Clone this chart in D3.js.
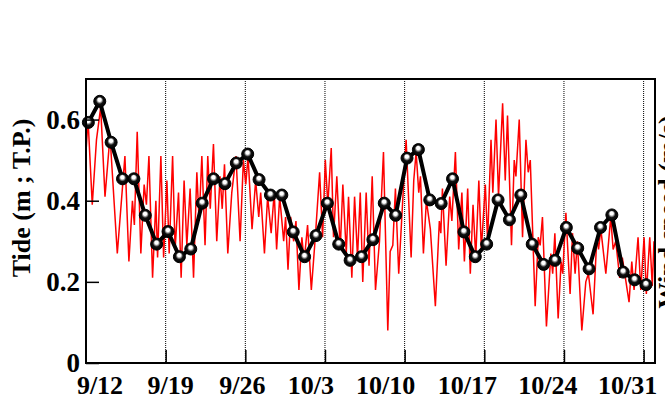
<html>
<script src="https://d3js.org/d3.v7.min.js"></script>
<style>
body {margin: 0; background: #fff;}
text {font-family: "Liberation Serif", "Times New Roman", serif; font-weight: bold;}
</style>
<body>
<svg id="chart" width="665" height="397"></svg>
<script>
// daily mean tide, 9/12 .. 10/31
var meanDays = ["9/12","9/13","9/14","9/15","9/16","9/17","9/18","9/19","9/20","9/21",
  "9/22","9/23","9/24","9/25","9/26","9/27","9/28","9/29","9/30","10/1",
  "10/2","10/3","10/4","10/5","10/6","10/7","10/8","10/9","10/10","10/11",
  "10/12","10/13","10/14","10/15","10/16","10/17","10/18","10/19","10/20","10/21",
  "10/22","10/23","10/24","10/25","10/26","10/27","10/28","10/29","10/30","10/31"];
var meanTide = [0.593,0.645,0.544,0.454,0.454,0.364,0.293,0.324,0.262,0.281,
  0.394,0.454,0.442,0.493,0.515,0.452,0.414,0.414,0.323,0.262,
  0.314,0.394,0.293,0.253,0.262,0.304,0.394,0.364,0.505,0.526,
  0.402,0.393,0.454,0.323,0.262,0.293,0.402,0.353,0.414,0.293,
  0.243,0.253,0.334,0.283,0.232,0.334,0.365,0.224,0.205,0.193];

// hourly tide turning points: days after 9/12 00:00, and level (m)
var tideDay = [0,0.18,0.55,0.92,1.29,1.67,2.11,2.75,3.42,3.77,4.08,4.25,4.50,4.82,5.11,5.31,5.53,5.85,6.14,6.29,
  6.58,6.82,7.11,7.31,7.61,7.83,8.13,8.36,8.62,8.86,9.15,9.45,9.74,9.94,10.18,10.46,10.70,10.92,11.20,11.49,
  11.78,11.97,12.17,12.46,12.81,13.18,13.54,13.83,14.04,14.24,14.59,14.91,15.18,15.35,15.68,15.96,16.27,16.54,16.75,17.02,
  17.37,17.54,17.75,17.98,18.25,18.45,18.71,18.97,19.17,19.47,19.80,20.15,20.53,20.79,21.03,21.25,21.55,21.75,22.04,22.34,
  22.57,22.87,23.07,23.36,23.60,23.86,24.10,24.32,24.62,24.87,25.15,25.44,25.79,26.14,26.52,26.73,26.96,27.19,27.48,27.83,
  28.13,28.57,28.80,29.01,29.24,29.39,29.65,29.91,30.26,30.70,31.05,31.18,31.32,31.64,31.96,32.15,32.46,32.75,33.03,33.25,
  33.54,33.77,34.01,34.25,34.52,34.74,35.09,35.29,35.59,35.75,36.03,36.25,36.61,36.84,37.04,37.39,37.63,37.78,38.07,38.36,
  38.66,38.86,39.04,39.47,39.74,39.91,40.11,40.46,40.85,41.01,41.20,41.49,41.75,41.89,42.17,42.54,42.75,42.98,43.18,43.57,
  43.92,44.15,44.56,44.89,45.04,45.24,45.68,46.11,46.32,46.55,46.90,47.13,47.72,47.96,48.16,48.51,48.75,49.04,49.24,49.54,
  49.76,49.91];
var tideLevel = [0.52,0.60,0.39,0.55,0.63,0.41,0.56,0.27,0.51,0.25,0.40,0.34,0.57,0.27,0.44,0.39,0.51,0.21,0.40,0.26,
  0.51,0.26,0.45,0.27,0.51,0.28,0.42,0.21,0.45,0.29,0.43,0.21,0.47,0.35,0.51,0.29,0.51,0.38,0.54,0.30,
  0.46,0.38,0.49,0.27,0.42,0.51,0.30,0.50,0.44,0.51,0.33,0.45,0.36,0.42,0.27,0.41,0.32,0.42,0.28,0.41,
  0.30,0.36,0.23,0.36,0.30,0.35,0.18,0.31,0.25,0.34,0.18,0.31,0.47,0.31,0.50,0.39,0.53,0.31,0.46,0.28,
  0.44,0.27,0.41,0.21,0.41,0.26,0.42,0.20,0.42,0.24,0.46,0.18,0.30,0.52,0.08,0.275,0.29,0.43,0.22,0.40,
  0.55,0.26,0.45,0.52,0.42,0.46,0.27,0.40,0.33,0.14,0.35,0.32,0.43,0.24,0.41,0.35,0.52,0.28,0.42,0.25,
  0.43,0.22,0.39,0.26,0.45,0.28,0.44,0.30,0.55,0.42,0.60,0.41,0.64,0.45,0.61,0.29,0.50,0.46,0.60,0.31,
  0.55,0.47,0.50,0.14,0.31,0.29,0.36,0.09,0.27,0.22,0.32,0.11,0.25,0.22,0.37,0.17,0.32,0.22,0.30,0.08,
  0.20,0.22,0.12,0.31,0.28,0.33,0.22,0.36,0.28,0.30,0.21,0.26,0.15,0.25,0.18,0.31,0.18,0.31,0.17,0.31,
  0.19,0.30];

var yTicks = [0, 0.2, 0.4, 0.6];
var yTickLabels = ["0", "0.2", "0.4", "0.6"];
var xTickLabels = ["9/12","9/19","9/26","10/3","10/10","10/17","10/24","10/31"];

var pLeft = 86, pRight = 655, pTop = 79, pBottom = 363;
var start = Date.UTC(2013, 8, 12);
function md(s) { var p = s.split("/"); return new Date(Date.UTC(2013, +p[0] - 1, +p[1])); }

var svg = d3.select("#chart");
var x = d3.scaleUtc().domain([new Date(start), new Date(Date.UTC(2013, 10, 1))]).range([pLeft, pRight]);
var y = d3.scaleLinear().domain([0, 0.7]).range([pBottom, pTop]);

var defs = svg.append("defs");
defs.append("clipPath").attr("id", "plot")
  .append("rect").attr("x", pLeft).attr("y", pTop).attr("width", pRight - pLeft).attr("height", pBottom - pTop);
var grad = defs.append("radialGradient").attr("id", "ball")
  .attr("cx", "50%").attr("cy", "50%").attr("r", "50%").attr("fx", "48%").attr("fy", "32%");
grad.append("stop").attr("offset", "0%").attr("stop-color", "#fff");
grad.append("stop").attr("offset", "28%").attr("stop-color", "#fff");
grad.append("stop").attr("offset", "60%").attr("stop-color", "#111");
grad.append("stop").attr("offset", "100%").attr("stop-color", "#000");

//grid
var weekDates = xTickLabels.map(md);
svg.append("g").selectAll("line").data(weekDates.slice(1)).enter().append("line")
  .attr("x1", function(d) { return x(d); }).attr("x2", function(d) { return x(d); })
  .attr("y1", pTop).attr("y2", pBottom)
  .attr("stroke", "#000").attr("stroke-width", 1).attr("stroke-dasharray", "1,1");

//red hourly tide
var tide = tideDay.map(function(d, i) { return {t: new Date(start + d * 864e5), v: tideLevel[i]}; });
svg.append("path").datum(tide)
  .attr("clip-path", "url(#plot)")
  .attr("fill", "none").attr("stroke", "#ff0000").attr("stroke-width", 1.5)
  .attr("d", d3.line().x(function(d) { return x(d.t); }).y(function(d) { return y(d.v); }));

//daily mean
var mean = meanDays.map(function(s, i) { return {t: d3.utcHour.offset(md(s), 5), v: meanTide[i]}; });
svg.append("path").datum(mean)
  .attr("fill", "none").attr("stroke", "#000").attr("stroke-width", 4).attr("stroke-linejoin", "round")
  .attr("d", d3.line().x(function(d) { return x(d.t); }).y(function(d) { return y(d.v); }));
svg.append("g").selectAll("circle").data(mean).enter().append("circle")
  .attr("cx", function(d) { return x(d.t); }).attr("cy", function(d) { return y(d.v); })
  .attr("r", 6).attr("fill", "url(#ball)").attr("stroke", "#000").attr("stroke-width", 1);

//axes
svg.append("g").attr("transform", "translate(" + pLeft + ",0)")
  .call(d3.axisRight(y).tickValues(yTicks).tickSize(13).tickFormat(""))
  .call(function(g) { g.select(".domain").remove(); g.selectAll("line").attr("stroke-width", 1.5); });
svg.append("g").selectAll("text").data(yTicks).enter().append("text")
  .attr("x", 80).attr("y", function(d) { return y(d); }).attr("dy", "0.35em")
  .attr("text-anchor", "end").style("font-size", "27px")
  .text(function(d, i) { return yTickLabels[i]; });

svg.append("g").attr("transform", "translate(0," + pBottom + ")")
  .call(d3.axisTop(x).tickValues(weekDates.slice(1)).tickSize(13).tickFormat(""))
  .call(function(g) { g.select(".domain").remove(); g.selectAll("line").attr("stroke-width", 1.5); });
var nudge = [14, 5, -3, -14, -19, -17, -16, -16];
svg.append("g").selectAll("text").data(weekDates).enter().append("text")
  .attr("x", function(d, i) { return x(d) + nudge[i]; }).attr("y", 394)
  .attr("text-anchor", "middle").style("font-size", "26px")
  .text(function(d, i) { return xTickLabels[i]; });

svg.append("rect").attr("x", pLeft).attr("y", pTop).attr("width", pRight - pLeft).attr("height", pBottom - pTop)
  .attr("fill", "none").attr("stroke", "#000").attr("stroke-width", 2);

svg.append("text").attr("transform", "translate(30,198) rotate(-90)")
  .attr("text-anchor", "middle").style("font-size", "26px").text("Tide (m ; T.P.)");
svg.append("text").attr("transform", "translate(676,212) rotate(-90)")
  .attr("text-anchor", "middle").style("font-size", "26px").text("Wind speed (m/s)");
</script>
</body>
</html>
